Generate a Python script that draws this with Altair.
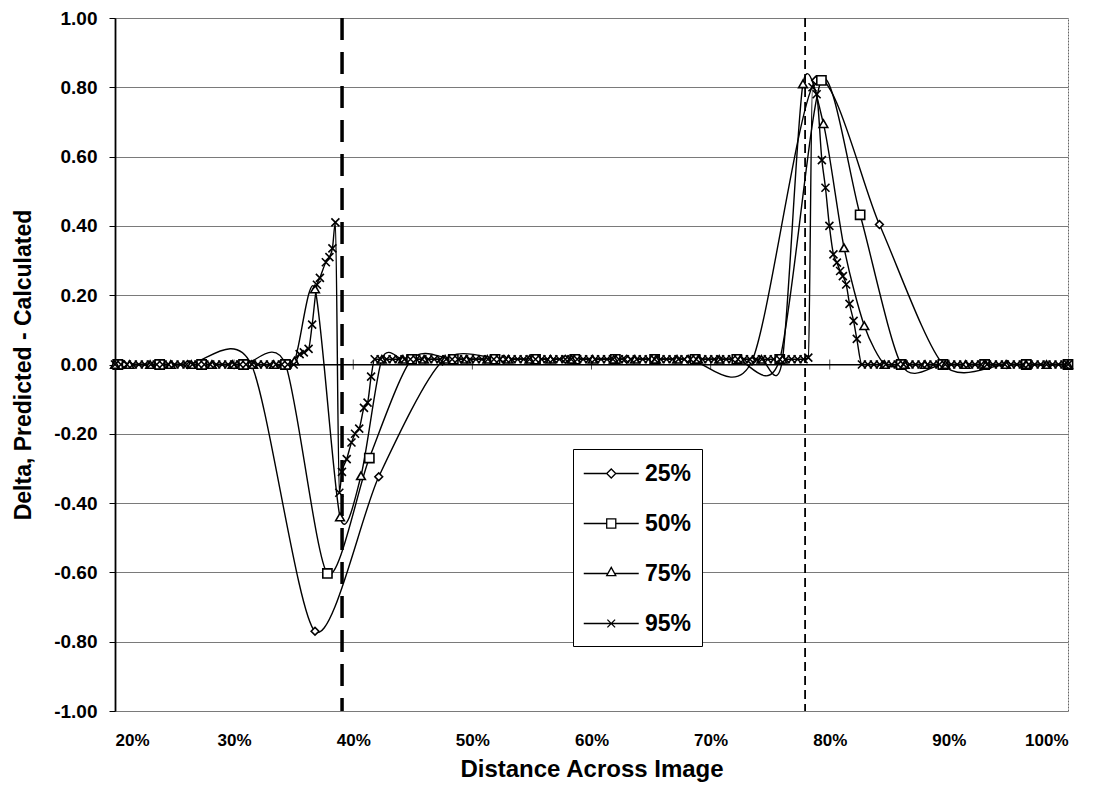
import altair as alt
import pandas as pd

SERIES = ["25%", "50%", "75%", "95%"]

X25 = [20.74, 26.09, 31.44, 36.79, 42.14, 47.49, 52.65, 57.8, 62.95, 68.12,
       73.47, 78.82, 84.17, 89.52, 94.87, 100.0]
Y25 = [0, 0, 0, -0.77, -0.324, 0.01, 0.015, 0.015, 0.015, 0.015,
       0.01, 0.82, 0.404, 0, 0, 0]

X50 = [20.23, 23.75, 27.27, 30.79, 34.31, 37.83, 41.35, 44.9, 48.4, 51.9,
       55.3, 58.6, 62.0, 65.3, 68.7, 72.2, 75.8, 79.3, 82.55, 86.0,
       89.5, 93.0, 96.5, 100.0]
Y50 = [0, 0, 0, 0, 0, -0.603, -0.27, 0.015, 0.015, 0.015,
       0.015, 0.015, 0.015, 0.015, 0.015, 0.015, 0.015, 0.82, 0.432, 0,
       0, 0, 0, 0]

X75 = [20.0, 21.22, 22.95, 24.68, 26.41, 28.14, 29.87, 31.6, 33.33, 35.06,
       36.79, 38.89, 40.65,
       42.4, 44.17, 45.94, 47.71, 49.48, 51.25, 53.02, 54.79, 56.56, 58.33,
       60.1, 61.87, 63.64, 65.41, 67.18, 68.95, 70.72, 72.49, 74.26, 76.03,
       77.75, 79.47, 81.2, 82.9,
       84.6, 86.3, 88.0, 89.7, 91.4, 93.1, 94.8, 96.5, 98.2, 100.0]
Y75 = [0, 0, 0, 0, 0, 0, 0, 0, 0, 0.01,
       0.218, -0.44, -0.321,
       0.015, 0.015, 0.015, 0.015, 0.015, 0.015, 0.015, 0.015, 0.015, 0.015,
       0.015, 0.015, 0.015, 0.015, 0.015, 0.015, 0.015, 0.015, 0.015, 0.015,
       0.81, 0.695, 0.337, 0.112,
       0, 0, 0, 0, 0, 0, 0, 0, 0, 0]

X95 = [20.0, 20.5, 21.0, 21.5, 22.0, 22.5, 23.0, 23.5, 24.0, 24.5,
       25.0, 25.5, 26.0, 26.5, 27.0, 27.5, 28.0, 28.5, 29.0, 29.5,
       30.0, 30.5, 31.0, 31.5, 32.0, 32.5, 33.0, 33.5, 34.0, 34.5,
       35.0,
       35.5, 35.85, 36.25, 36.55, 36.95, 37.2, 37.7, 38.0, 38.25, 38.5,
       38.83, 39.05, 39.45, 39.85, 40.15, 40.5, 40.9, 41.2, 41.5, 41.8,
       42.3, 42.8, 43.3, 43.8, 44.3, 44.8, 45.3, 45.8, 46.3, 46.8,
       47.3, 47.8, 48.3, 48.8, 49.3, 49.8, 50.3, 50.8, 51.3, 51.8,
       52.3, 52.8, 53.3, 53.8, 54.3, 54.8, 55.3, 55.8, 56.3, 56.8,
       57.3, 57.8, 58.3, 58.8, 59.3, 59.8, 60.3, 60.8, 61.3, 61.8,
       62.3, 62.8, 63.3, 63.8, 64.3, 64.8, 65.3, 65.8, 66.3, 66.8,
       67.3, 67.8, 68.3, 68.8, 69.3, 69.8, 70.3, 70.8, 71.3, 71.8,
       72.3, 72.8, 73.3, 73.8, 74.3, 74.8, 75.3, 75.8, 76.3, 76.8,
       77.3, 77.8,
       78.2, 78.55, 78.9, 79.34, 79.64, 79.97, 80.31, 80.6, 80.87, 81.1,
       81.38, 81.66, 82.0, 82.27, 82.7,
       83.2, 83.7, 84.2, 84.7, 85.2, 85.7, 86.2, 86.7, 87.2, 87.7,
       88.2, 88.7, 89.2, 89.7, 90.2, 90.7, 91.2, 91.7, 92.2, 92.7,
       93.2, 93.7, 94.2, 94.7, 95.2, 95.7, 96.2, 96.7, 97.2, 97.7,
       98.2, 98.7, 99.2, 99.7, 100.0]
Y95 = [0, 0, 0, 0, 0, 0, 0, 0, 0, 0,
       0, 0, 0, 0, 0, 0, 0, 0, 0, 0,
       0, 0, 0, 0, 0, 0, 0, 0, 0, 0,
       0,
       0.03, 0.035, 0.045, 0.115, 0.23, 0.25, 0.295, 0.31, 0.335, 0.41,
       -0.37, -0.31, -0.273, -0.225, -0.2, -0.185, -0.125, -0.11, -0.035, 0.015,
       0.015, 0.015, 0.015, 0.015, 0.015, 0.015, 0.015, 0.015, 0.015, 0.015,
       0.015, 0.015, 0.015, 0.015, 0.015, 0.015, 0.015, 0.015, 0.015, 0.015,
       0.015, 0.015, 0.015, 0.015, 0.015, 0.015, 0.015, 0.015, 0.015, 0.015,
       0.015, 0.015, 0.015, 0.015, 0.015, 0.015, 0.015, 0.015, 0.015, 0.015,
       0.015, 0.015, 0.015, 0.015, 0.015, 0.015, 0.015, 0.015, 0.015, 0.015,
       0.015, 0.015, 0.015, 0.015, 0.015, 0.015, 0.015, 0.015, 0.015, 0.015,
       0.015, 0.015, 0.015, 0.015, 0.015, 0.015, 0.015, 0.015, 0.015, 0.015,
       0.015, 0.015,
       0.02, 0.80, 0.78, 0.59, 0.51, 0.40, 0.318, 0.294, 0.27, 0.255,
       0.231, 0.175, 0.126, 0.074, 0.0,
       0, 0, 0, 0, 0, 0, 0, 0, 0, 0,
       0, 0, 0, 0, 0, 0, 0, 0, 0, 0,
       0, 0, 0, 0, 0, 0, 0, 0, 0, 0,
       0, 0, 0, 0, 0]

X_TICKS = [20, 30, 40, 50, 60, 70, 80, 90, 100]
Y_TICKS = [-1.0, -0.8, -0.6, -0.4, -0.2, 0.0, 0.2, 0.4, 0.6, 0.8, 1.0]
REF_LINES = [39.06, 77.93]

MARKERS = ["diamond", "square", "triangle-up", "M-1,-1L1,1M-1,1L1,-1"]
MARKER_SIZES = [60, 85, 75, 64]
SMOOTHING = ["cardinal", "cardinal", "cardinal", "monotone"]
LEGEND_SHAPES = [
    "M-1,0L0.67,0M1.33,0L3,0M0.67,0L1,-0.33L1.33,0L1,0.33Z",
    "M-1,0L0.67,0M1.33,0L3,0M0.67,-0.33L1.33,-0.33L1.33,0.33L0.67,0.33Z",
    "M-1,0L0.75,0M1.25,0L3,0M1,-0.45L1.33,0.15L0.67,0.15Z",
    "M-1,0L3,0M0.72,-0.28L1.28,0.28M0.72,0.28L1.28,-0.28",
]

rows = []
for name, xs, ys in zip(SERIES, [X25, X50, X75, X95], [Y25, Y50, Y75, Y95]):
    assert len(xs) == len(ys), name
    for i, (x, y) in enumerate(zip(xs, ys)):
        rows.append({"series": name, "x": x, "y": y, "order": i})
df = pd.DataFrame(rows)

FONT = "Liberation Sans"
x_scale = alt.Scale(domain=[20, 100], nice=False, zero=False)
y_scale = alt.Scale(domain=[-1, 1], nice=False, zero=False)

x_axis = alt.Axis(values=X_TICKS, labelExpr="datum.value + '%'", ticks=False, tickSize=0,
                  domain=False, grid=False, labelFont=FONT, labelFontSize=17,
                  labelFontWeight="bold", labelColor="black", labelPadding=21,
                  title="Distance Across Image", titleFont=FONT, titleFontSize=24,
                  titleFontWeight="bold", titleColor="black", titlePadding=9)
y_axis = alt.Axis(values=Y_TICKS, labelExpr="replace(format(datum.value, '.2f'), '−', '-')",
                  labelFont=FONT, labelFontSize=19, labelFontWeight="bold", labelColor="black",
                  tickColor="black", tickSize=6, tickWidth=1, domainColor="black", domainWidth=1.8,
                  grid=True, gridColor="#7a7a7a", gridWidth=1, labelPadding=12,
                  title="Delta, Predicted - Calculated", titleFont=FONT, titleFontSize=23,
                  titleFontWeight="bold", titleColor="black", titlePadding=18)

base = alt.Chart(df)

line_layers = []
for name, interp in zip(SERIES, SMOOTHING):
    line_layers.append(
        base.transform_filter(alt.datum.series == name).mark_line(
            interpolate=interp, tension=0.2, color="black", strokeWidth=1.4).encode(
            x=alt.X("x:Q", scale=x_scale, axis=x_axis),
            y=alt.Y("y:Q", scale=y_scale, axis=y_axis),
            order="order:Q",
        )
    )

zero_df = pd.DataFrame({"x": X_TICKS})
zero_line = alt.Chart(zero_df).mark_rule(color="black", strokeWidth=1).encode(
    y=alt.datum(0, scale=y_scale)
)
zero_ticks = alt.Chart(zero_df).mark_tick(color="black", orient="vertical", size=10, thickness=1).encode(
    x=alt.X("x:Q", scale=x_scale), y=alt.datum(0, scale=y_scale)
)

ref_df = pd.DataFrame({"x": REF_LINES, "kind": ["thick", "thin"]})
ref_thick = alt.Chart(ref_df).transform_filter(alt.datum.kind == "thick").mark_rule(
    color="black", strokeWidth=3.5, strokeDash=[22, 12]).encode(x=alt.X("x:Q", scale=x_scale))
ref_thin = alt.Chart(ref_df).transform_filter(alt.datum.kind == "thin").mark_rule(
    color="black", strokeWidth=1.8, strokeDash=[9, 5]).encode(x=alt.X("x:Q", scale=x_scale))

point_layers = []
for name, shape, size in zip(SERIES, MARKERS, MARKER_SIZES):
    point_layers.append(
        base.transform_filter(alt.datum.series == name).mark_point(
            shape=shape, size=size, fill="white", filled=False, stroke="black",
            strokeWidth=1.6, opacity=1).encode(
            x=alt.X("x:Q", scale=x_scale), y=alt.Y("y:Q", scale=y_scale))
    )

legend_layer = base.mark_point(opacity=0, size=756).encode(
    x=alt.X("x:Q", scale=x_scale), y=alt.Y("y:Q", scale=y_scale),
    shape=alt.Shape("series:N", scale=alt.Scale(domain=SERIES, range=LEGEND_SHAPES),
                    legend=alt.Legend(title=None, orient="none", legendX=458, legendY=431,
                                      symbolSize=756, symbolOpacity=1, symbolFillColor="white",
                                      symbolStrokeColor="black", symbolStrokeWidth=1.3,
                                      labelFont=FONT, labelFontSize=23, labelFontWeight="bold",
                                      labelColor="black", labelOffset=33, rowPadding=23,
                                      strokeColor="black", fillColor="white", padding=10)),
)

chart = alt.layer(
    zero_line, zero_ticks, ref_thick, ref_thin, *line_layers, *point_layers, legend_layer
).resolve_scale(shape="independent").properties(
    width=953, height=693,
    autosize=alt.AutoSizeParams(type="none"),
    padding={"left": 107, "top": 10, "right": 17, "bottom": 80},
).configure_view(stroke="#666666", strokeWidth=1, strokeDash=[2, 1])

chart.save("out.html", embed_options={"renderer": "svg", "actions": False})
